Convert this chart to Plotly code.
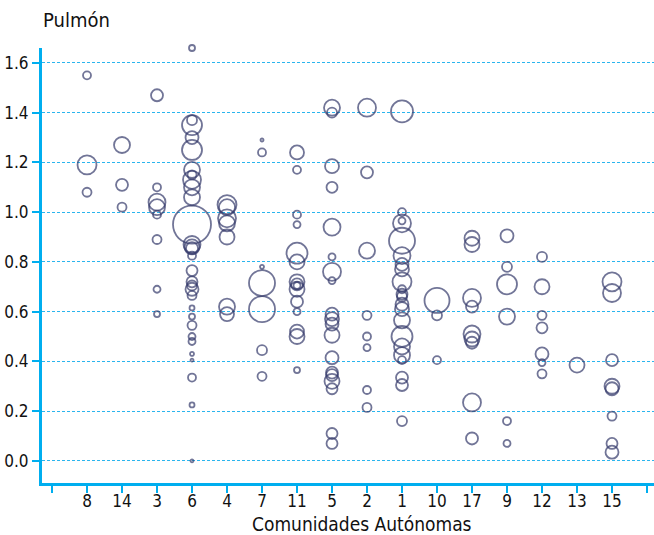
import plotly.graph_objects as go

# Category order along the x axis (Comunidades Autónomas)
categorias = ['8', '14', '3', '6', '4', '7', '11', '5', '2', '1', '10', '17', '9', '12', '13', '15']

# Each bubble: community, rate (y), bubble weight (diameter units)
comunidad = (
    ['8'] * 3 + ['14'] * 3 + ['3'] * 8 + ['6'] * 30 + ['4'] * 7 + ['7'] * 7 + ['11'] * 15 +
    ['5'] * 19 + ['2'] * 8 + ['1'] * 22 + ['10'] * 3 + ['17'] * 9 + ['9'] * 6 + ['12'] * 7 +
    ['13'] * 1 + ['15'] * 8
)
tasa = [
    # 8
    1.55, 1.19, 1.08,
    # 14
    1.27, 1.11, 1.02,
    # 3
    1.47, 1.10, 1.04, 1.02, 0.99, 0.89, 0.69, 0.59,
    # 6
    1.66, 1.37, 1.35, 1.30, 1.25, 1.17, 1.15, 1.13, 1.10, 1.06, 0.95, 0.87, 0.86, 0.855, 0.825,
    0.765, 0.72, 0.705, 0.69, 0.665, 0.615, 0.58, 0.545, 0.50, 0.48, 0.43, 0.405, 0.335, 0.225, 0.0,
    # 4
    1.03, 1.02, 0.975, 0.955, 0.90, 0.62, 0.59,
    # 7
    1.29, 1.24, 0.78, 0.715, 0.61, 0.445, 0.34,
    # 11
    1.24, 1.17, 0.99, 0.95, 0.835, 0.80, 0.72, 0.71, 0.705, 0.69, 0.64, 0.60, 0.52, 0.50, 0.365,
    # 5
    1.42, 1.40, 1.185, 1.10, 0.94, 0.82, 0.76, 0.725, 0.59, 0.57, 0.55, 0.505, 0.415, 0.355, 0.345,
    0.32, 0.29, 0.11, 0.07,
    # 2
    1.42, 1.16, 0.845, 0.585, 0.50, 0.455, 0.285, 0.215,
    # 1
    1.405, 1.00, 0.965, 0.955, 0.885, 0.825, 0.79, 0.77, 0.72, 0.69, 0.67, 0.66, 0.63, 0.61, 0.565,
    0.50, 0.46, 0.425, 0.405, 0.335, 0.305, 0.16,
    # 10
    0.645, 0.585, 0.405,
    # 17
    0.895, 0.87, 0.655, 0.62, 0.51, 0.49, 0.475, 0.235, 0.09,
    # 9
    0.905, 0.78, 0.71, 0.58, 0.16, 0.07,
    # 12
    0.82, 0.70, 0.585, 0.535, 0.43, 0.395, 0.35,
    # 13
    0.385,
    # 15
    0.72, 0.675, 0.405, 0.30, 0.29, 0.18, 0.07, 0.035,
]
peso = [
    # 8
    8, 19, 9,
    # 14
    16, 12, 9,
    # 3
    12, 8, 17, 16, 8, 9, 7, 6,
    # 6
    6, 10, 20, 13, 20, 16, 9, 18, 16, 16, 38, 17, 15, 12, 8,
    11, 11, 10, 13, 9, 5, 6, 9, 7, 7, 4, 3, 8, 5, 3,
    # 4
    19, 16, 18, 16, 15, 16, 14,
    # 7
    3, 8, 4, 26, 26, 10, 9,
    # 11
    14, 8, 8, 7, 21, 15, 15, 12, 7, 15, 12, 7, 14, 15, 6,
    # 5
    16, 10, 14, 11, 17, 7, 18, 7, 13, 14, 13, 15, 13, 12, 12,
    15, 11, 11, 11,
    # 2
    18, 12, 16, 9, 8, 7, 8, 9,
    # 1
    22, 8, 7, 18, 26, 17, 13, 14, 19, 8, 11, 10, 13, 14, 16,
    21, 16, 16, 8, 12, 12, 10,
    # 10
    25, 10, 8,
    # 17
    15, 15, 18, 12, 17, 15, 12, 18, 12,
    # 9
    13, 10, 20, 16, 8, 7,
    # 12
    10, 15, 9, 11, 13, 7, 9,
    # 13
    15,
    # 15
    19, 18, 12, 15, 13, 9, 11, 13,
]

y_ticks = [0.0, 0.2, 0.4, 0.6, 0.8, 1.0, 1.2, 1.4, 1.6]
y_tick_labels = ['0.0', '0.2', '0.4', '0.6', '0.8', '1.0', '1.2', '1.4', '1.6']

pos = {c: i + 1 for i, c in enumerate(categorias)}
xs = [pos[c] for c in comunidad]

FONT = "DejaVu Sans Condensed, Liberation Sans Narrow, sans-serif"
AXIS = "#00AEEF"
GRID = "#2BB5EE"
INK = "#363B6C"
TXT = "#111111"

fig = go.Figure()
fig.add_trace(go.Scatter(
    x=xs, y=tasa, mode="markers",
    marker=dict(size=peso, sizemode="diameter", sizeref=1,
                color="rgba(0,0,0,0)",
                line=dict(color=INK, width=1.8)),
    cliponaxis=False,
    hoverinfo="skip",
))

fig.update_layout(
    width=654, height=535,
    margin=dict(l=42, r=0, t=48, b=52, autoexpand=False),
    paper_bgcolor="white", plot_bgcolor="white",
    showlegend=False,
    font=dict(family=FONT, size=17, color=TXT),
    annotations=[
        dict(text="Pulmón", xref="paper", yref="paper", x=-0.002, y=1.0,
             xanchor="left", yanchor="bottom", yshift=14, showarrow=False,
             font=dict(family=FONT, size=20, color=TXT)),
        dict(text="Comunidades Autónomas", xref="paper", yref="paper", x=0.523, y=0.0,
             xanchor="center", yanchor="top", yshift=-28, showarrow=False,
             font=dict(family=FONT, size=19, color=TXT)),
    ],
)
fig.update_xaxes(
    range=[-0.286, 17.2],
    tickmode="array",
    tickvals=list(range(0, 18)),
    ticktext=[''] + categorias + [''],
    showgrid=False, zeroline=False, automargin=False,
    showline=True, linecolor=AXIS, linewidth=3,
    ticks="outside", ticklen=7, tickwidth=2, tickcolor=AXIS,
    ticklabelstandoff=-6,
    tickfont=dict(family=FONT, size=17, color=TXT),
)
fig.update_yaxes(
    range=[-0.089, 1.66],
    tickmode="array", tickvals=y_ticks, ticktext=y_tick_labels,
    showgrid=True, gridcolor=GRID, gridwidth=1, griddash="3px,2px",
    zeroline=False, automargin=False,
    showline=True, linecolor=AXIS, linewidth=3,
    ticks="outside", ticklen=7, tickwidth=2, tickcolor=AXIS,
    tickfont=dict(family=FONT, size=17, color=TXT),
)

fig.write_html("out.html", config={"displayModeBar": False},
               post_script="document.body.style.margin='0';")
